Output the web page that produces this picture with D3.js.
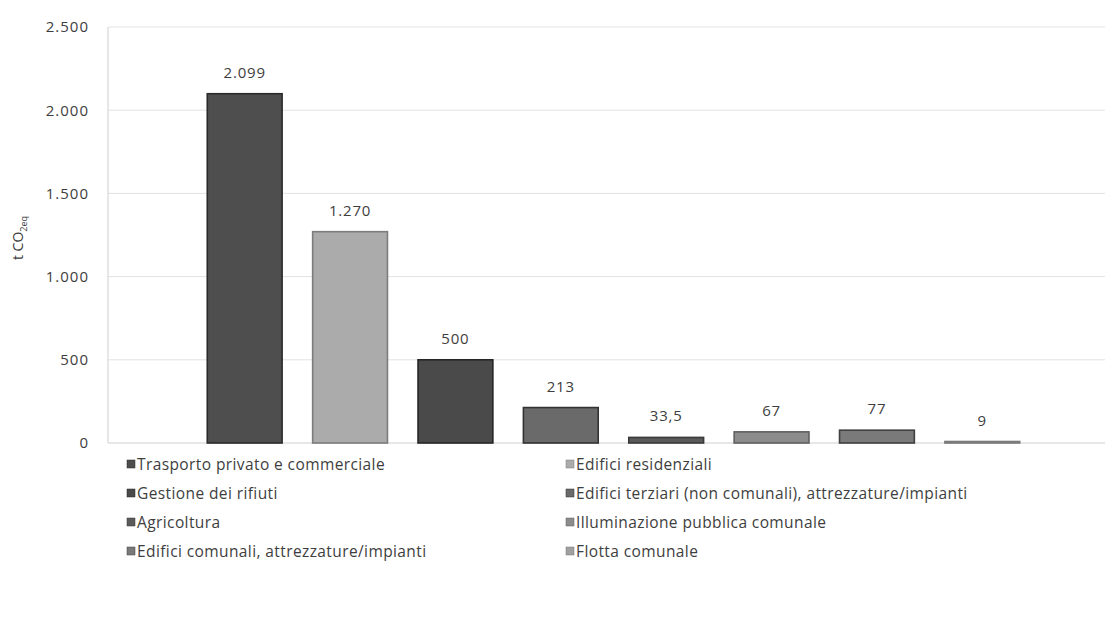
<!DOCTYPE html>
<html><head><meta charset="utf-8">
<script src="https://cdn.jsdelivr.net/npm/d3@7"></script>
<style>body{margin:0;background:#fff}svg{display:block}text{font-family:"Open Sans",sans-serif;fill:#3e3e3e}</style>
</head><body>
<svg id="chart" width="1110" height="623"></svg>
<script>
const categories = ["Trasporto privato e commerciale","Edifici residenziali","Gestione dei rifiuti","Edifici terziari (non comunali), attrezzature/impianti","Agricoltura","Illuminazione pubblica comunale","Edifici comunali, attrezzature/impianti","Flotta comunale"];
const values = [2099,1270,500,213,33.5,67,77,9];
const labels = ["2.099","1.270","500","213","33,5","67","77","9"];
const yTicks = [0,500,1000,1500,2000,2500];
const colors = ["#4e4e4e","#ababab","#4a4a4a","#6a6a6a","#5a5a5a","#8c8c8c","#7a7a7a","#a0a0a0"];
const strokes = ["#2a2a2a","#7c7c7c","#262626","#333333","#3a3a3a","#606060","#404040","#7a7a7a"];

(function(){
const it = d3.formatLocale({decimal:",",thousands:".",grouping:[3],currency:["€",""]});
const fmt = it.format(",");
const svg = d3.select("#chart");
const pl = 108, pr = 1105, pt = 27, pb = 443;
const y = d3.scaleLinear().domain([0,2500]).range([pb, pt]);
const x = d3.scaleBand().domain(categories).range([192,1035]).paddingInner(0.29).paddingOuter(0.145);

svg.append("g").selectAll("line").data(yTicks.filter(d=>d>0)).join("line")
  .attr("x1",pl).attr("x2",pr).attr("y1",d=>y(d)).attr("y2",d=>y(d))
  .attr("stroke","#e2e2e2").attr("stroke-width",1);
svg.append("line").attr("x1",pl).attr("x2",pl).attr("y1",pt).attr("y2",pb).attr("stroke","#cfcfcf");
svg.append("line").attr("x1",pl).attr("x2",pr).attr("y1",pb).attr("y2",pb).attr("stroke","#cfcfcf");

const yAxis = d3.axisLeft(y).tickValues(yTicks).tickFormat(fmt).tickSize(0).tickPadding(19);
const ga = svg.append("g").attr("transform",`translate(${pl},0)`).call(yAxis);
ga.select(".domain").remove();
ga.selectAll("text").style("font-size","15px").style("letter-spacing","1px").attr("fill","#3e3e3e").style("font-family","'Open Sans',sans-serif");

const yt = svg.append("text").attr("transform","translate(23,238) rotate(-90)").attr("text-anchor","middle").style("font-size","14px");
yt.append("tspan").text("t CO");
yt.append("tspan").attr("dy",4).style("font-size","9px").text("2eq");

svg.append("g").selectAll("rect").data(categories).join("rect")
  .attr("x",d=>x(d)).attr("width",x.bandwidth())
  .attr("y",(d,i)=>y(values[i])).attr("height",(d,i)=>pb - y(values[i]))
  .attr("fill",(d,i)=>colors[i]).attr("stroke",(d,i)=>strokes[i]).attr("stroke-width",1.6);

svg.append("g").selectAll("text").data(categories).join("text")
  .attr("x",d=>x(d)+x.bandwidth()/2).attr("y",(d,i)=>y(values[i])-16)
  .attr("text-anchor","middle").style("font-size","15px").style("letter-spacing","0.8px").text((d,i)=>labels[i]);

const lg = svg.append("g");
categories.forEach((c,i)=>{
  const col = i%2, row = Math.floor(i/2);
  const lx = col===0 ? 127 : 566, ly = 464 + row*29;
  lg.append("rect").attr("x",lx).attr("y",ly-4).attr("width",8).attr("height",8).attr("fill",colors[i]).attr("stroke",strokes[i]).attr("stroke-width",0.5);
  lg.append("text").attr("x",lx+10).attr("y",ly).attr("dy","0.36em").style("font-size","15.5px").style("letter-spacing","0.4px").text(c);
});
})();
</script>
</body></html>
